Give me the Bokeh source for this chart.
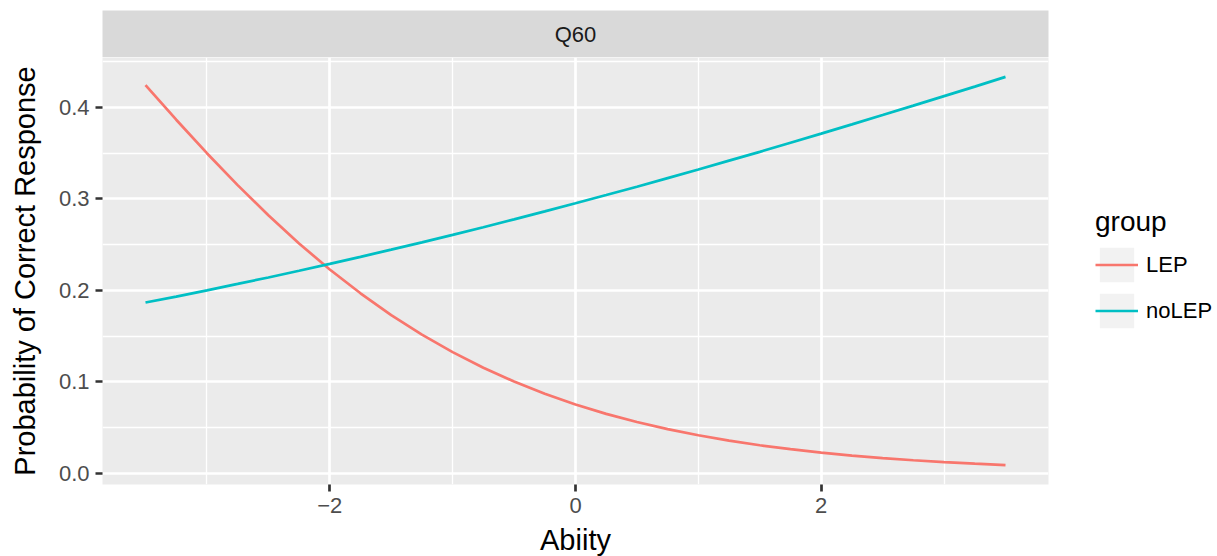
import math
from bokeh.plotting import figure
from bokeh.layouts import column
from bokeh.models import Range1d, FixedTicker, Legend, LegendItem, ColumnDataSource
from bokeh.embed import file_html
from bokeh.resources import INLINE
from bokeh.core.properties import value

# ---- data ----
ability = [-3.5, -3.25, -3.0, -2.75, -2.5, -2.25, -2.0, -1.75, -1.5, -1.25, -1.0, -0.75, -0.5, -0.25,
           0.0, 0.25, 0.5, 0.75, 1.0, 1.25, 1.5, 1.75, 2.0, 2.25, 2.5, 2.75, 3.0, 3.25, 3.5]
lep = [0.4243, 0.3864, 0.3498, 0.3149, 0.2819, 0.2511, 0.2227, 0.1967, 0.1729, 0.1515, 0.1324, 0.1153,
       0.1002, 0.0868, 0.0752, 0.0649, 0.0560, 0.0482, 0.0415, 0.0357, 0.0306, 0.0263, 0.0225, 0.0193,
       0.0165, 0.0142, 0.0121, 0.0104, 0.0089]
nolep = [0.1866, 0.1931, 0.1999, 0.2069, 0.2140, 0.2213, 0.2288, 0.2365, 0.2444, 0.2524, 0.2606, 0.2689,
         0.2775, 0.2862, 0.2951, 0.3041, 0.3132, 0.3226, 0.3320, 0.3417, 0.3513, 0.3613, 0.3712, 0.3813,
         0.3915, 0.4018, 0.4122, 0.4226, 0.4332]
groups = ["LEP", "noLEP"]
group_colors = ["#F8766D", "#00BFC4"]
panel_label = "Q60"
x_ticks = [-2, 0, 2]
x_minor = [-3, -1, 1, 3]
x_tick_labels = ["\u22122", "0", "2"]
y_ticks = [0.0, 0.1, 0.2, 0.3, 0.4]
y_minor = [0.05, 0.15, 0.25, 0.35, 0.45]
y_tick_labels = ["0.0", "0.1", "0.2", "0.3", "0.4"]

FONT = "Liberation Sans"
FRAME_W, FRAME_H = 946, 427
LEFT, RIGHT = 102, 169

xmin, xmax = min(ability), max(ability)
allv = lep + nolep
ymin, ymax = min(allv), max(allv)
xpad = 0.05 * (xmax - xmin)
ypad = 0.05 * (ymax - ymin)

# ---- facet strip ----
strip = figure(frame_width=FRAME_W, frame_height=47, min_border_left=LEFT, min_border_right=RIGHT,
               min_border_top=10, min_border_bottom=0, x_range=Range1d(0, 1), y_range=Range1d(0, 1),
               x_axis_location=None, y_axis_location=None, toolbar_location=None, output_backend="svg",
               background_fill_color="#D9D9D9", border_fill_color="white", outline_line_color=None)
strip.grid.visible = False
strip.text(x=[0.5], y=[0.5], text=[panel_label], text_align="center", text_baseline="middle",
           text_font=value(FONT), text_font_size="22px", text_color="#1A1A1A")

# ---- main panel ----
p = figure(frame_width=FRAME_W, frame_height=FRAME_H, min_border_left=LEFT, min_border_right=RIGHT,
           min_border_top=0, min_border_bottom=72,
           x_range=Range1d(xmin - xpad, xmax + xpad), y_range=Range1d(ymin - ypad, ymax + ypad),
           toolbar_location=None, output_backend="svg",
           background_fill_color="#EBEBEB", border_fill_color="white", outline_line_color=None,
           x_axis_label="Abiity", y_axis_label="Probability of Correct Response")

p.xaxis.ticker = FixedTicker(ticks=x_ticks, minor_ticks=x_minor)
p.yaxis.ticker = FixedTicker(ticks=y_ticks, minor_ticks=y_minor)
p.xaxis.major_label_overrides = {t: l for t, l in zip(x_ticks, x_tick_labels)}
p.yaxis.major_label_overrides = {t: l for t, l in zip(y_ticks, y_tick_labels)}

for ax in (p.xaxis, p.yaxis):
    ax.axis_line_color = None
    ax.major_tick_line_color = "#333333"
    ax.major_tick_line_width = 2.7
    ax.major_tick_out = 7
    ax.major_tick_in = 0
    ax.minor_tick_out = 0
    ax.minor_tick_in = 0
    ax.major_label_text_font = FONT
    ax.major_label_text_font_size = "22px"
    ax.major_label_text_color = "#4D4D4D"
    ax.major_label_standoff = 6
    ax.axis_label_text_font = FONT
    ax.axis_label_text_font_size = "29px"
    ax.axis_label_text_font_style = "normal"
    ax.axis_label_text_color = "black"
p.xaxis.axis_label_standoff = 8
p.yaxis.axis_label_standoff = 15

for g in (p.xgrid, p.ygrid):
    g.grid_line_color = "white"
    g.grid_line_width = 2.7
    g.minor_grid_line_color = "white"
    g.minor_grid_line_width = 1.35

# legend key background helper (not drawn in panel)
key_src = ColumnDataSource(dict(left=[math.nan], right=[math.nan], top=[math.nan], bottom=[math.nan]))
key_bg = p.quad(left="left", right="right", top="top", bottom="bottom", source=key_src,
                fill_color="#F2F2F2", line_color=None)

renderers = []
for vals, col in zip([lep, nolep], group_colors):
    r = p.line(ability, vals, line_color=col, line_width=2.7)
    renderers.append(r)

legend = Legend(items=[LegendItem(label=g, renderers=[key_bg, r]) for g, r in zip(groups, renderers)],
                title="group", location=(47, 152), orientation="vertical",
                glyph_width=43, glyph_height=43, label_height=43, spacing=3, label_standoff=8,
                padding=0, margin=0, border_line_color=None, background_fill_alpha=0,
                title_text_font=FONT, title_text_font_size="28px", title_text_font_style="normal",
                title_text_color="black", title_standoff=5,
                label_text_font=FONT, label_text_font_size="22px", label_text_color="black")
p.add_layout(legend, "right")

layout = column(strip, p, spacing=0)
open("out.html", "w").write(file_html(layout, INLINE))
